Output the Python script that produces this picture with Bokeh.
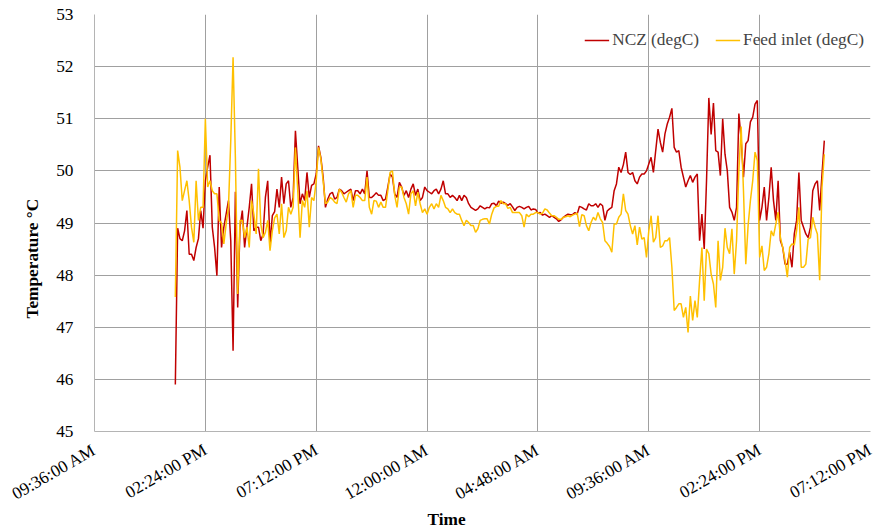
import math
import pandas as pd
from bokeh.plotting import figure
from bokeh.models import (ColumnDataSource, FixedTicker, DatetimeTickFormatter,
                          Range1d, Title, Legend, LegendItem)
from bokeh.embed import file_html
from bokeh.resources import INLINE

# ---------------- data ----------------
start_time = "2020-01-01 13:06"
sample_minutes = 6

ncz = [
    45.9, 48.9, 48.7, 48.66, 48.85, 49.24, 48.4, 48.4, 48.28, 48.53,
    48.7, 49.24, 48.9, 49.81, 50.07, 50.3, 48.92, 48.53, 47.99, 49.69,
    48.53, 48.92, 49.17, 49.43, 48.66, 46.55, 49.6, 47.38, 48.92, 49.24,
    48.53, 48.92, 49.3, 49.75, 48.85, 48.92, 48.92, 48.66, 48.79, 49.49,
    49.81, 48.6, 49.14, 49.22, 49.65, 49.3, 49.88, 49.37, 49.75, 49.81,
    49.3, 49.49, 50.77, 50.07, 49.37, 49.56, 49.43, 49.97, 49.49, 49.72,
    49.75, 49.94, 50.48, 50.26, 49.88, 49.3, 49.46, 49.56, 49.59, 49.46,
    49.49, 49.65, 49.62, 49.56, 49.59, 49.62, 49.65, 49.43, 49.62, 49.62,
    49.56, 49.65, 49.56, 50.0, 49.49, 49.49, 49.53, 49.58, 49.53, 49.53,
    49.43, 49.46, 49.69, 49.94, 49.88, 49.56, 49.49, 49.78, 49.69, 49.53,
    49.62, 49.49, 49.65, 49.75, 49.53, 49.65, 49.43, 49.49, 49.69, 49.62,
    49.59, 49.56, 49.62, 49.65, 49.56, 49.65, 49.81, 49.56, 49.56, 49.49,
    49.53, 49.49, 49.43, 49.53, 49.43, 49.53, 49.49, 49.37, 49.3, 49.27,
    49.24, 49.27, 49.33, 49.3, 49.27, 49.3, 49.29, 49.37, 49.38, 49.33,
    49.42, 49.38, 49.4, 49.37, 49.34, 49.37, 49.31, 49.24, 49.3, 49.32,
    49.3, 49.27, 49.3, 49.32, 49.25, 49.27, 49.26, 49.19, 49.2, 49.15,
    49.17, 49.14, 49.11, 49.14, 49.11, 49.08, 49.03, 49.06, 49.11, 49.14,
    49.17, 49.16, 49.16, 49.2, 49.17, 49.32, 49.3, 49.27, 49.25, 49.37,
    49.33, 49.33, 49.37, 49.3, 49.37, 49.33, 49.05, 49.23, 49.27, 49.3,
    49.62, 49.75, 50.07, 49.97, 50.12, 50.36, 49.97, 49.93, 49.97, 49.81,
    49.75, 49.88, 49.94, 49.94, 50.0, 50.13, 50.26, 49.97, 50.39, 50.8,
    50.55, 50.36, 50.71, 50.9, 51.03, 51.2, 50.45, 50.36, 50.39, 50.07,
    49.88, 49.69, 49.81, 49.91, 49.78, 49.88, 49.94, 48.66, 49.17, 48.5,
    49.81, 51.4, 50.7, 51.3, 50.39, 50.36, 49.91, 51.0, 50.32, 50.0,
    49.3, 49.21, 49.05, 49.3, 51.1, 50.6, 49.88, 50.52, 50.58, 50.94,
    51.03, 51.28, 51.35, 49.05, 49.3, 49.69, 49.05, 49.49, 50.07, 49.43,
    49.05, 49.81, 48.66, 48.53, 48.21, 48.21, 48.44, 48.15, 48.79, 49.05,
    49.97, 49.05, 48.92, 48.79, 48.72, 48.92, 49.62, 49.75, 49.81, 49.24,
    49.94, 50.58,
]

feed_inlet = [
    47.58, 50.39, 50.07, 49.43, 49.62, 49.81, 49.43, 48.92, 48.63, 49.81,
    49.05, 49.3, 49.3, 51.0, 49.69, 49.81, 49.62, 49.56, 49.56, 49.05,
    49.0, 48.6, 48.98, 49.3, 50.58, 52.18, 50.26, 47.64, 49.05, 49.05,
    48.72, 48.92, 48.53, 49.43, 49.17, 48.79, 50.04, 48.98, 48.72, 48.82,
    49.05, 48.47, 48.85, 49.1, 49.17, 48.79, 49.37, 48.72, 48.85, 49.3,
    49.17, 49.3, 50.45, 49.62, 48.72, 49.43, 49.3, 49.62, 48.92, 49.49,
    49.43, 49.81, 50.45, 50.23, 49.81, 49.37, 49.4, 49.49, 49.46, 49.4,
    49.37, 49.65, 49.59, 49.49, 49.4, 49.56, 49.62, 49.3, 49.53, 49.53,
    49.49, 49.43, 49.43, 49.88, 49.3, 49.17, 49.43, 49.42, 49.3, 49.4,
    49.3, 49.3, 49.62, 49.97, 50.0, 49.53, 49.3, 49.69, 49.69, 49.49,
    49.37, 49.17, 49.56, 49.62, 49.33, 49.59, 49.37, 49.2, 49.27, 49.17,
    49.3, 49.37, 49.27, 49.37, 49.3, 49.53, 49.43, 49.3, 49.27, 49.2,
    49.27, 49.2, 49.17, 49.17, 49.05, 48.95, 49.05, 49.01, 48.95, 48.95,
    48.82, 48.89, 49.05, 49.07, 49.08, 49.08, 48.98, 49.17, 49.29, 49.32,
    49.32, 49.43, 49.37, 49.37, 49.28, 49.3, 49.2, 49.2, 49.2, 49.2,
    49.14, 48.92, 49.17, 49.12, 49.17, 49.17, 49.2, 49.2, 49.17, 49.19,
    49.27, 49.25, 49.19, 49.14, 49.14, 49.11, 49.07, 49.07, 49.11, 49.12,
    49.14, 49.12, 49.15, 49.17, 49.19, 48.93, 49.16, 49.14, 48.95, 48.85,
    49.01, 49.11, 49.05, 49.2, 49.08, 49.01, 48.66, 48.61, 48.55, 48.44,
    48.98, 48.98, 49.11, 49.17, 49.56, 49.24, 49.17, 48.95, 48.79, 48.95,
    48.58, 48.92, 48.69, 48.72, 48.34, 48.85, 49.14, 48.63, 48.72, 49.14,
    48.53, 48.56, 48.66, 48.66, 48.72, 48.15, 47.32, 47.38, 47.45, 47.45,
    47.19, 47.38, 46.9, 47.6, 47.13, 47.51, 47.19, 47.9, 48.53, 47.51,
    48.5, 48.41, 48.02, 47.83, 47.38, 48.66, 47.9, 48.15, 48.9, 48.53,
    48.41, 48.89, 48.02, 48.66, 50.0, 50.85, 49.62, 48.21, 48.95, 49.43,
    49.81, 50.36, 50.2, 48.34, 48.56, 48.09, 48.15, 48.41, 48.85, 48.75,
    48.98, 49.21, 48.72, 48.53, 48.28, 47.96, 48.53, 48.6, 48.58, 48.85,
    49.3, 48.15, 48.15, 48.21, 48.69, 48.72, 49.11, 48.92, 48.79, 47.9,
    49.69, 50.32,
]

x_start = "2020-01-01 09:36"
x_end = "2020-01-02 19:12"
tick_times = ["2020-01-01 09:36", "2020-01-01 14:24", "2020-01-01 19:12",
              "2020-01-02 00:00", "2020-01-02 04:48", "2020-01-02 09:36",
              "2020-01-02 14:24", "2020-01-02 19:12"]
y_ticks = [45, 46, 47, 48, 49, 50, 51, 52, 53]

series_names = ["NCZ (degC)", "Feed inlet (degC)"]
series_colors = ["#C00000", "#FFC000"]
x_title = "Time"
y_title = "Temperature °C"

# ---------------- figure ----------------
times = pd.date_range(start_time, periods=len(ncz), freq=f"{sample_minutes}min")
source = ColumnDataSource(dict(t=times, ncz=ncz, feed=feed_inlet))

FONT = "Liberation Serif"
FS = "17.3px"

p = figure(width=874, height=527, x_axis_type="datetime",
           output_backend="svg", toolbar_location=None,
           x_range=Range1d(pd.Timestamp(x_start), pd.Timestamp(x_end)),
           y_range=Range1d(45, 53),
           min_border_left=94, min_border_right=4,
           min_border_top=14, min_border_bottom=96)
p.outline_line_color = None
p.background_fill_color = "white"
p.border_fill_color = "white"

r1 = p.line("t", "ncz", source=source, line_color=series_colors[0], line_width=1.5)
r2 = p.line("t", "feed", source=source, line_color=series_colors[1], line_width=1.5)

tick_ms = [pd.Timestamp(t).value // 10**6 for t in tick_times]
p.xaxis.ticker = FixedTicker(ticks=tick_ms)
fmt = "%I:%M:%S %p"
p.xaxis.formatter = DatetimeTickFormatter(
    milliseconds=fmt, seconds=fmt, minsec=fmt, minutes=fmt, hourmin=fmt,
    hours=fmt, days=fmt, months=fmt, years=fmt)
p.yaxis.ticker = FixedTicker(ticks=y_ticks)

for ax in (p.xaxis, p.yaxis):
    ax.major_tick_line_color = None
    ax.minor_tick_line_color = None
    ax.axis_line_color = "#b4b4b4"
    ax.major_label_text_font = FONT
    ax.major_label_text_font_size = FS
    ax.major_label_text_color = "#000000"

p.xaxis.major_label_orientation = math.pi / 6
p.xaxis.major_label_standoff = 11
p.yaxis.major_label_standoff = 15

p.xgrid.grid_line_color = "#a0a0a0"
p.ygrid.grid_line_color = "#a0a0a0"
p.xgrid.ticker = FixedTicker(ticks=tick_ms)
p.ygrid.ticker = FixedTicker(ticks=y_ticks)

# axis titles as side titles, positioned off the frame centre like the original
p.add_layout(Title(text=x_title, align="left", offset=333, vertical_align="top",
                   standoff=-10, text_font=FONT, text_font_size=FS,
                   text_font_style="bold", text_color="#000000"), "below")
p.add_layout(Title(text=y_title, align="left", offset=113, standoff=24,
                   text_font=FONT, text_font_size=FS,
                   text_font_style="bold", text_color="#000000"), "left")

legend = Legend(items=[LegendItem(label=series_names[0], renderers=[r1]),
                       LegendItem(label=series_names[1], renderers=[r2])],
                orientation="horizontal", location="top_right")
legend.background_fill_alpha = 0
legend.border_line_color = None
legend.label_text_font = FONT
legend.label_text_font_size = FS
legend.glyph_width = 25
legend.glyph_height = 40
legend.label_height = 40
legend.label_standoff = 3
legend.spacing = 16
legend.margin = 6
legend.padding = 4
p.add_layout(legend)

open("out.html", "w").write(file_html(p, INLINE))
